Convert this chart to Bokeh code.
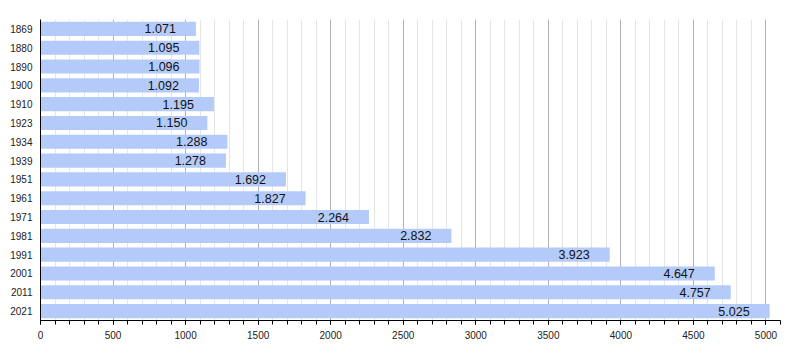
from bokeh.plotting import figure
from bokeh.models import ColumnDataSource, FactorRange, Range1d, SingleIntervalTicker
from bokeh.embed import file_html
from bokeh.resources import INLINE
from bokeh.core.properties import value

years = ["1869", "1880", "1890", "1900", "1910", "1923", "1934", "1939",
         "1951", "1961", "1971", "1981", "1991", "2001", "2011", "2021"]
population = [1071, 1095, 1096, 1092, 1195, 1150, 1288, 1278,
              1692, 1827, 2264, 2832, 3923, 4647, 4757, 5025]
labels = ["{:,}".format(v).replace(",", ".") for v in population]

src = ColumnDataSource(dict(year=years, pop=population, label=labels))

p = figure(
    y_range=FactorRange(factors=list(reversed(years)), range_padding=0),
    x_range=Range1d(0, 5100),
    frame_width=740, frame_height=301,
    min_border_left=40, min_border_right=2, min_border_top=19, min_border_bottom=22,
    output_backend="svg", toolbar_location=None,
)
p.background_fill_color = "white"
p.border_fill_color = "white"
p.outline_line_color = None

p.hbar(y="year", right="pop", left=0, height=0.75, source=src,
       fill_color="#b4cbfa", line_color=None)
p.text(x="pop", y="year", text="label", source=src, x_offset=-20,
       text_align="right", text_baseline="middle",
       text_font=value("Liberation Sans"), text_font_size="12.5px",
       text_color="#111111")

p.xaxis.ticker = SingleIntervalTicker(interval=500, num_minor_ticks=5)
p.xaxis.major_tick_out = 4
p.xaxis.major_tick_in = 0
p.xaxis.minor_tick_out = 4
p.xaxis.minor_tick_in = 0
p.xaxis.axis_line_color = "black"
p.xaxis.major_tick_line_color = "black"
p.xaxis.minor_tick_line_color = "black"
p.xaxis.major_label_text_font = "Liberation Sans"
p.xaxis.major_label_text_font_size = "10px"
p.xaxis.major_label_text_color = "#222222"
p.xaxis.major_label_standoff = 6

p.yaxis.major_tick_out = 0
p.yaxis.major_tick_in = 0
p.yaxis.minor_tick_out = 0
p.yaxis.axis_line_color = "black"
p.yaxis.major_label_text_font = "Liberation Sans"
p.yaxis.major_label_text_font_size = "10px"
p.yaxis.major_label_text_color = "#222222"
p.yaxis.major_label_standoff = 8

p.ygrid.grid_line_color = None
p.xgrid.ticker = SingleIntervalTicker(interval=500, num_minor_ticks=5)
p.xgrid.grid_line_color = "#b0b0b0"
p.xgrid.minor_grid_line_color = "#e4e4e4"

open("out.html", "w").write(file_html(p, INLINE))
